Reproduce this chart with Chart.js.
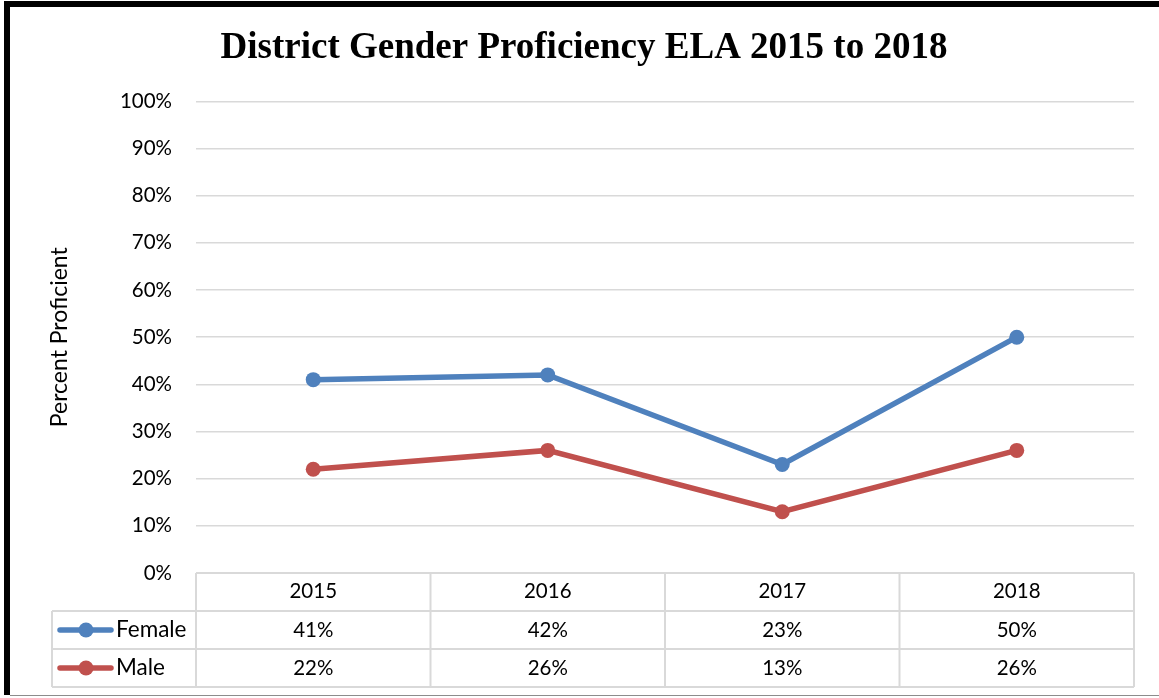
<!DOCTYPE html>
<html>
<head>
<meta charset="utf-8">
<script src="https://cdn.jsdelivr.net/npm/chart.js@4"></script>
<style>
  body { margin: 0; background: #fff; }
  canvas { display: block; }
</style>
</head>
<body>
<canvas id="chart" width="1159" height="698"></canvas>
<script>
const years = ["2015", "2016", "2017", "2018"];
const female = [41, 42, 23, 50];
const male = [22, 26, 13, 26];
const seriesNames = ["Female", "Male"];
const yMax = 100;
const yStep = 10;

const labelFont = { family: "Lato", size: 20.5 };
const nameFont = { family: "Lato", size: 22.5 };
const blue = "#4F81BD";
const red = "#C0504D";
const gridColor = "#d9d9d9";

// data table under the plot, Excel style, plus the frame round the picture
const tablePlugin = {
  id: "dataTable",
  afterDraw(chart) {
    const ctx = chart.ctx;
    const x = chart.scales.x;
    const area = chart.chartArea;
    const half = (x.getPixelForValue(1) - x.getPixelForValue(0)) / 2;
    const rowH = 38;
    const top = area.bottom;
    const legendLeft = 52;
    const rows = [top, top + rowH, top + rowH * 2, top + rowH * 3];

    ctx.save();
    ctx.strokeStyle = gridColor;
    ctx.lineWidth = 2;
    ctx.beginPath();
    ctx.moveTo(area.left, rows[0]);
    ctx.lineTo(area.right, rows[0]);
    for (let r = 1; r < rows.length; r++) {
      ctx.moveTo(legendLeft, rows[r]);
      ctx.lineTo(area.right, rows[r]);
    }
    ctx.moveTo(legendLeft, rows[1]);
    ctx.lineTo(legendLeft, rows[3]);
    for (let i = 0; i <= years.length; i++) {
      const bx = i < years.length ? x.getPixelForValue(i) - half : x.getPixelForValue(i - 1) + half;
      ctx.moveTo(bx, rows[0]);
      ctx.lineTo(bx, rows[3]);
    }
    ctx.stroke();

    ctx.fillStyle = "#000";
    ctx.textBaseline = "middle";
    chart.data.datasets.forEach((ds, r) => {
      const cy = rows[r + 1] + rowH / 2;
      ctx.font = `${labelFont.size}px ${labelFont.family}`;
      ctx.textAlign = "center";
      ds.data.forEach((v, i) => {
        ctx.fillText(v + "%", x.getPixelForValue(i), cy);
      });
      // legend key
      ctx.strokeStyle = ds.borderColor;
      ctx.lineWidth = 5.5;
      ctx.lineCap = "round";
      ctx.beginPath();
      ctx.moveTo(60, cy);
      ctx.lineTo(111, cy);
      ctx.stroke();
      ctx.fillStyle = ds.borderColor;
      ctx.beginPath();
      ctx.arc(86, cy, 7.5, 0, Math.PI * 2);
      ctx.fill();
      ctx.fillStyle = "#000";
      ctx.textAlign = "left";
      ctx.font = `${nameFont.size}px ${nameFont.family}`;
      ctx.fillText(ds.label, 116, cy);
    });

    // frame
    ctx.fillStyle = "#000";
    ctx.fillRect(4, 1, 1155, 6);
    ctx.fillRect(4, 1, 6, 694);
    ctx.fillStyle = "#8c8c8c";
    ctx.fillRect(10, 695, 1149, 1);
    ctx.restore();
  }
};

new Chart(document.getElementById("chart"), {
  type: "line",
  data: {
    labels: years,
    datasets: [
      { label: seriesNames[0], data: female, borderColor: blue, backgroundColor: blue, borderWidth: 5.5, pointRadius: 7.5, pointHoverRadius: 7.5, pointBorderWidth: 0, tension: 0 },
      { label: seriesNames[1], data: male, borderColor: red, backgroundColor: red, borderWidth: 5.5, pointRadius: 7.5, pointHoverRadius: 7.5, pointBorderWidth: 0, tension: 0 }
    ]
  },
  options: {
    responsive: false,
    animation: false,
    layout: { padding: { left: 34, right: 25, top: 26, bottom: 3 } },
    plugins: {
      legend: { display: false },
      tooltip: { enabled: false },
      title: {
        display: true,
        text: "District Gender Proficiency ELA 2015 to 2018",
        color: "#000",
        font: { family: "Liberation Serif", size: 37, weight: "bold" },
        padding: { top: 0, bottom: 31 }
      }
    },
    scales: {
      x: {
        offset: true,
        grid: { display: false, drawTicks: false },
        border: { display: false },
        ticks: { color: "#000", font: labelFont, padding: 6 },
        afterFit(scale) { scale.height = 122; }
      },
      y: {
        min: 0,
        max: yMax,
        grid: { color: gridColor, lineWidth: 1.5, drawTicks: false },
        border: { display: false },
        ticks: { stepSize: yStep, color: "#000", font: labelFont, padding: 24, callback: v => v + "%" },
        title: { display: true, text: "Percent Proficient", color: "#000", font: { family: "Lato", size: 23 }, padding: { top: 12, bottom: 0 } },
        afterFit(scale) { scale.width = 162; }
      }
    }
  },
  plugins: [tablePlugin]
});
</script>
</body>
</html>
